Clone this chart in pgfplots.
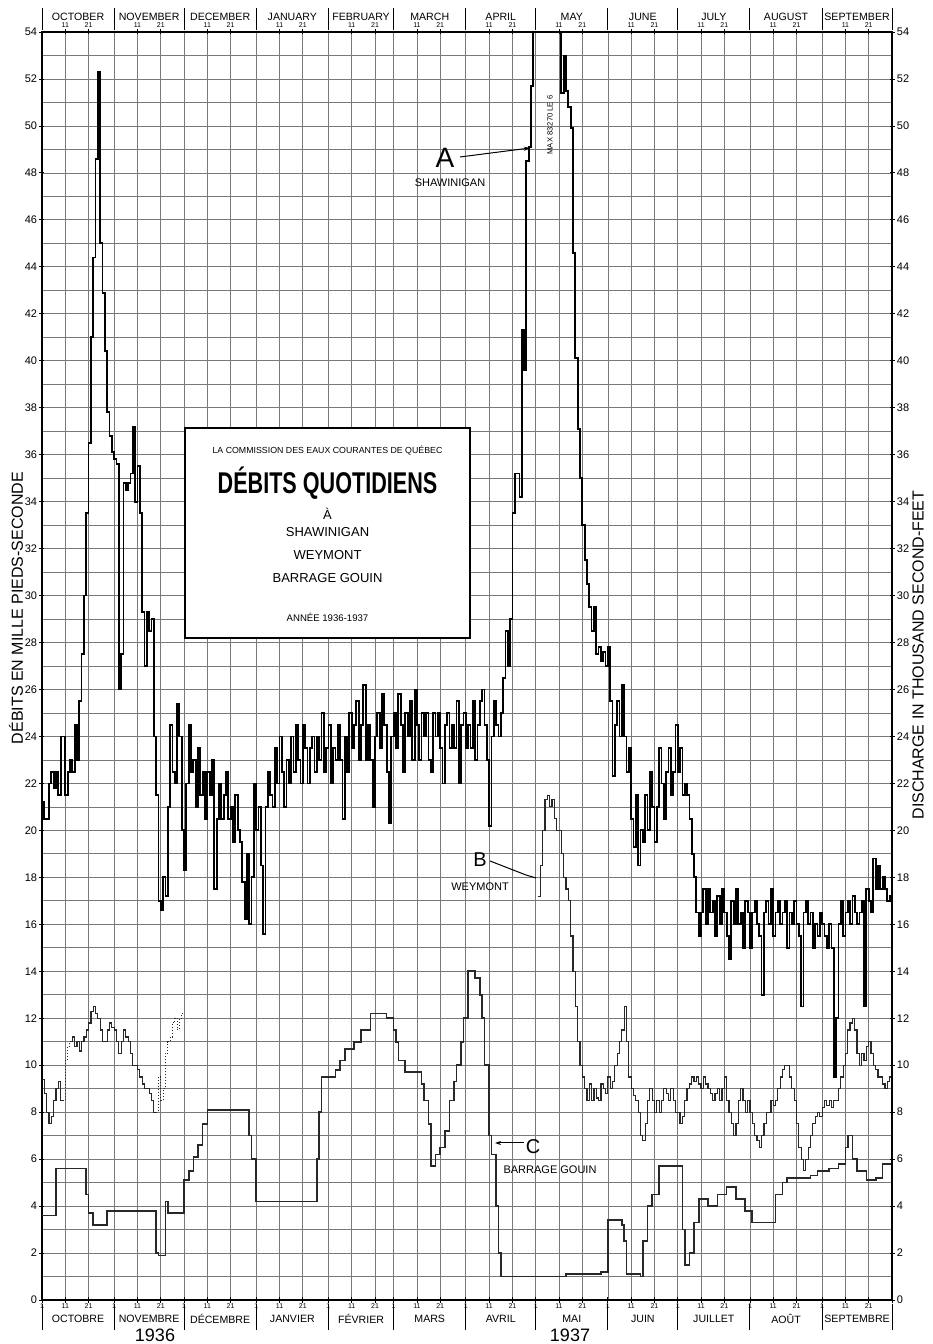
\documentclass[border=0pt]{standalone}
\usepackage{pgfplots}
\pgfplotsset{compat=1.18}
\usepackage{fontspec}
\setmainfont{Liberation Sans}
\usetikzlibrary{arrows.meta}
\definecolor{ink}{RGB}{40,40,40}
\definecolor{gridc}{RGB}{120,120,120}
\begin{document}
\begin{tikzpicture}
\fill[white] (0,0) rectangle (466pt,672pt);
\useasboundingbox (0,0) rectangle (466pt,672pt);
\begin{axis}[
  at={(21pt,22pt)}, anchor=south west, scale only axis, width=425pt, height=634pt,
  xmin=0, xmax=365, ymin=0, ymax=54,
  clip mode=individual,
  /pgf/number format/assume math mode=true,
  axis line style={black, line width=0.6pt},
  xtick={0,10,20,31,41,51,61,71,81,92,102,112,123,133,143,151,161,171,182,192,202,212,222,232,243,253,263,273,283,293,304,314,324,335,345,355,365},
  xticklabels={1,11,21,1,11,21,1,11,21,1,11,21,1,11,21,1,11,21,1,11,21,1,11,21,1,11,21,1,11,21,1,11,21,1,11,21,},
  xtick pos=bottom, ytick pos=left,
  xticklabel style={font=\fontsize{3.5}{3.5}\selectfont, inner sep=0.6pt},
  ytick={0,2,...,54},
  minor ytick={1,3,...,53},
  yticklabel style={font=\fontsize{5.5}{6}\selectfont, inner sep=1pt},
  xmajorgrids, ymajorgrids, yminorgrids,
  major grid style={gridc, line width=0.35pt},
  minor grid style={gridc, line width=0.35pt},
  tick align=center, major tick length=2.5pt, minor tick length=0pt,
  tick style={black, line width=0.4pt},
]
% --- C : Barrage Gouin
\addplot[const plot, ink, line width=0.8pt] coordinates {
(0,3.6)(6,5.6)(19,4.5)(20,3.7)(22,3.2)(28,3.8)(49,2.0)(50,1.9)(53,4.2)(54,3.7)(61,5.1)(63,5.5)(65,6.1)(67,6.6)(69,7.5)(71,8.1)(89,7.0)(90,6.0)(92,4.2)(118,6.0)(119,8.0)(120,9.5)(126,9.8)(128,10.2)(130,10.7)(134,11.0)(137,11.5)(141,12.2)(148,12.0)(151,11.5)(152,11.0)(153,10.2)(156,9.7)(163,9.2)(164,8.5)(166,7.5)(167,5.7)(169,6.2)(171,6.5)(173,7.2)(175,8.5)(177,9.3)(178,10.0)(180,11.0)(181,12.0)(183,14.0)(186,13.7)(188,13.0)(189,12.0)(190,10.0)(192,7.0)(193,6.2)(195,4.0)(196,2.0)(197,1.0)(215,1.0)(225,1.1)(240,1.2)(243,3.4)(249,3.2)(250,2.5)(251,1.1)(257,1.0)(258,2.5)(260,4.0)(262,4.5)(265,5.7)(275,3.0)(276,1.5)(278,2.0)(280,3.3)(282,4.3)(286,4.0)(290,4.5)(294,4.8)(298,4.3)(302,3.8)(305,3.3)(315,4.5)(318,5.0)(320,5.2)(330,5.3)(333,5.5)(338,5.6)(342,5.8)(345,6.5)(346,7.0)(348,6.0)(350,5.5)(354,5.1)(358,5.2)(361,5.8)(365,5.8)};
% --- B : Weymont
\addplot[const plot, ink, line width=0.6pt] coordinates {
(0,9.4)(1,8.8)(2,8.0)(3,7.5)(4,7.8)(5,8.5)(6,9.0)(7,9.3)(8,8.5)(9,8.5)};
\addplot[const plot, ink, line width=0.5pt, densely dotted] coordinates {
(9,8.5)(10,10.2)(11,10.8)(12,11.0)};
\addplot[const plot, ink, line width=0.6pt] coordinates {
(12,11.0)(13,11.2)(14,10.8)(15,11.0)(16,10.6)(17,11.0)(18,11.2)(19,11.5)(20,11.8)(21,12.3)(22,12.5)(23,12.2)(24,12.0)(25,11.5)(26,11.0)(27,11.0)(28,11.5)(29,11.8)(30,11.6)(31,11.5)(32,11.0)(33,10.5)(34,11.0)(35,11.5)(36,11.2)(37,11.0)(38,10.5)(39,10.0)(40,10.0)(41,9.8)(42,9.5)(43,9.2)(44,9.0)(45,9.0)(46,8.8)(47,8.5)(48,8.0)(49,8.0)};
\addplot[const plot, ink, line width=0.5pt, densely dotted] coordinates {
(49,8.0)(50,9.5)(51,8.5)(52,9.0)(53,10.5)(54,11.0)(55,11.2)(56,11.8)(57,12.0)(58,11.5)(59,12.0)(60,12.2)(61,12.2)};
\addplot[const plot, ink, line width=0.6pt] coordinates {
(213,17.2)(214,18.5)(215,20.0)(216,21.3)(217,21.5)(218,21.0)(219,21.3)(220,20.5)(221,20.0)(222,20.0)(223,19.0)(224,18.0)(225,17.5)(226,17.0)(227,15.5)(228,14.0)(229,12.5)
(230,11.0)(231,10.0)(232,9.5)(233,9.0)(234,8.5)(235,9.2)(236,8.5)(237,9.0)(238,8.6)(239,8.5)(240,9.2)(241,9.0)(242,8.8)(243,9.5)(244,9.0)(245,9.3)(246,10.0)(247,10.5)(248,11.0)(249,11.5)(250,12.5)(251,11.0)(252,9.5)(253,9.0)(254,8.7)(255,8.5)(256,8.0)(257,7.0)(258,6.8)(259,7.5)
(260,8.5)(261,9.0)(262,8.5)(263,8.0)(264,8.5)(265,8.0)(266,8.5)(267,9.0)(268,8.8)(269,8.5)(270,9.0)(271,8.5)(272,8.0)(273,8.0)(274,7.5)(275,7.8)(276,8.5)(277,9.0)(278,9.2)(279,9.5)
(280,9.3)(281,9.5)(282,9.2)(283,9.0)(284,9.5)(285,9.2)(286,9.0)(287,8.8)(288,8.5)(289,8.8)(290,9.0)(291,8.5)(292,9.0)(293,9.5)(294,8.5)(295,8.0)(296,7.5)(297,7.0)(298,7.5)(299,8.5)
(300,9.0)(301,8.5)(302,8.0)(303,8.5)(304,8.0)(305,7.5)(306,7.0)(307,6.8)(308,6.5)(309,7.0)(310,7.5)(311,8.0)(312,8.0)(313,8.5)(314,8.3)(315,8.5)(316,9.0)(317,9.5)(318,9.8)(319,10.0)
(320,10.0)(321,9.5)(322,9.0)(323,8.5)(324,7.5)(325,6.5)(326,6.0)(327,5.5)(328,6.0)(329,6.5)(330,7.0)(331,7.5)(332,7.8)(333,8.0)(334,7.8)(335,8.2)(336,8.5)(337,8.3)(338,8.5)(339,8.2)
(340,8.5)(341,8.5)(342,9.0)(343,9.5)(344,10.0)(345,10.5)(346,11.5)(347,11.8)(348,12.0)(349,11.5)(350,10.5)(351,10.0)(352,10.5)(353,10.2)(354,10.8)(355,11.0)(356,10.5)(357,10.0)(358,9.8)(359,9.5)
(360,9.5)(361,9.2)(362,9.0)(363,9.3)(364,9.5)(365,9.5)};
% --- A : Shawinigan
\addplot[const plot, black, line width=0.9pt] coordinates {
(0,21.2)(1,20.5)(2,20.5)(3,22.0)(4,22.5)(5,21.8)(6,22.5)(7,21.5)(8,24.0)(9,24.0)(10,21.5)(11,22.5)(12,23.0)(13,22.5)(14,24.5)(15,23.0)(16,25.5)(17,27.5)(18,30.0)(19,33.5)
(20,36.5)(21,41.0)(22,44.4)(23,48.6)(24,52.3)(25,45.0)(26,42.9)(27,40.4)(28,37.8)(29,36.8)(30,36.1)(31,35.8)(32,35.6)(33,26.0)(34,27.5)(35,34.8)(36,34.5)(37,34.8)(38,35.2)(39,37.2)
(40,34.0)(41,35.5)(42,33.5)(43,29.3)(44,27.0)(45,29.3)(46,28.5)(47,29.0)(48,24.0)(49,21.5)(50,17.0)(51,16.6)(52,18.0)(53,17.2)(54,21.0)(55,24.5)(56,22.5)(57,22.0)(58,25.4)(59,24.0)
(60,20.0)(61,18.3)(62,22.0)(63,24.5)(64,22.5)(65,23.0)(66,21.0)(67,23.5)(68,21.5)(69,22.5)(70,20.5)(71,22.5)(72,21.5)(73,23.0)(74,17.5)(75,20.5)(76,22.0)(77,20.5)(78,21.5)(79,22.5)
(80,20.5)(81,21.0)(82,19.5)(83,21.5)(84,20.0)(85,19.5)(86,17.8)(87,16.2)(88,19.0)(89,16.0)(90,18.0)(91,22.0)(92,20.0)(93,21.0)(94,18.5)(95,15.6)(96,21.0)(97,22.5)(98,21.5)(99,21.0)
(100,23.5)(101,22.0)(102,24.0)(103,22.5)(104,21.0)(105,23.0)(106,22.0)(107,24.0)(108,22.5)(109,24.5)(110,23.0)(111,22.0)(112,24.5)(113,23.5)(114,22.0)(115,23.5)(116,24.0)(117,22.5)(118,24.0)(119,23.0)
(120,25.0)(121,22.5)(122,23.5)(123,24.5)(124,22.0)(125,23.5)(126,23.0)(127,24.5)(128,23.0)(129,20.5)(130,24.0)(131,22.5)(132,25.0)(133,23.5)(134,24.5)(135,25.5)(136,23.0)(137,24.5)(138,26.2)(139,23.0)
(140,24.5)(141,23.0)(142,21.0)(143,24.0)(144,25.0)(145,23.5)(146,25.8)(147,24.5)(148,22.5)(149,20.3)(150,24.0)(151,25.0)(152,23.5)(153,25.8)(154,24.5)(155,22.5)(156,25.0)(157,24.0)(158,25.5)(159,23.0)
(160,26.0)(161,24.5)(162,23.0)(163,25.0)(164,24.0)(165,25.0)(166,23.0)(167,22.5)(168,25.0)(169,24.0)(170,25.0)(171,23.5)(172,22.0)(173,24.5)(174,25.0)(175,23.5)(176,24.5)(177,23.5)(178,25.5)(179,22.0)
(180,24.5)(181,25.0)(182,23.5)(183,24.5)(184,23.5)(185,25.5)(186,23.0)(187,24.5)(188,25.5)(189,26.0)(190,24.5)(191,23.0)(192,20.2)(193,24.0)(194,25.5)(195,24.5)(196,24.0)(197,25.0)(198,26.5)(199,28.5)
(200,27.0)(201,29.0)(202,33.5)(203,35.2)(204,35.2)(205,34.2)(206,41.3)(207,39.6)(208,48.5)(209,49.1)(210,51.7)(211,58.0)(212,64.0)(213,70.0)(214,75.0)(215,79.0)(216,82.0)(217,83.27)(218,80.0)(219,74.0)
(220,67.0)(221,60.0)(222,55.5)(223,51.4)(224,53.0)(225,51.5)(226,50.8)(227,49.9)(228,44.6)(229,40.1)(230,37.1)(231,35.0)(232,33.0)(233,31.5)(234,30.5)(235,29.5)(236,28.5)(237,29.5)(238,27.5)(239,27.8)
(240,27.2)(241,27.6)(242,27.0)(243,27.8)(244,25.5)(245,22.3)(246,24.5)(247,25.5)(248,24.0)(249,26.2)(250,24.0)(251,22.5)(252,23.5)(253,20.5)(254,19.3)(255,21.5)(256,18.5)(257,20.0)(258,19.5)(259,21.5)
(260,20.0)(261,22.5)(262,21.0)(263,19.5)(264,21.0)(265,23.5)(266,22.0)(267,20.5)(268,22.5)(269,23.5)(270,21.5)(271,22.5)(272,24.5)(273,22.5)(274,23.5)(275,21.5)(276,22.0)(277,21.5)(278,20.5)(279,19.0)
(280,18.0)(281,16.5)(282,15.5)(283,16.5)(284,17.5)(285,16.0)(286,17.5)(287,16.5)(288,17.0)(289,15.5)(290,17.2)(291,16.0)(292,17.5)(293,16.5)(294,15.5)(295,14.5)(296,17.0)(297,16.0)(298,17.5)(299,16.0)
(300,16.5)(301,15.0)(302,17.0)(303,16.5)(304,15.0)(305,16.5)(306,17.0)(307,16.0)(308,15.5)(309,13.0)(310,16.5)(311,17.0)(312,16.0)(313,17.5)(314,15.5)(315,16.5)(316,17.0)(317,16.0)(318,16.5)(319,17.0)
(320,15.0)(321,16.5)(322,16.0)(323,17.0)(324,16.0)(325,15.5)(326,12.5)(327,16.5)(328,17.0)(329,16.0)(330,16.5)(331,15.0)(332,16.0)(333,15.5)(334,16.5)(335,16.0)(336,15.5)(337,15.0)(338,16.0)(339,15.0)
(340,9.5)(341,12.0)(342,16.0)(343,17.0)(344,15.5)(345,16.5)(346,17.0)(347,16.0)(348,17.2)(349,16.5)(350,16.0)(351,16.5)(352,17.0)(353,12.5)(354,17.5)(355,17.0)(356,16.5)(357,18.8)(358,17.5)(359,18.5)
(360,17.5)(361,18.0)(362,17.5)(363,17.0)(364,17.2)(365,17.2)};
\end{axis}
\begin{axis}[
  at={(21pt,22pt)}, anchor=south west, scale only axis, width=425pt, height=634pt,
  xmin=0, xmax=365, ymin=0, ymax=54,
  /pgf/number format/assume math mode=true,
  axis x line*=top, axis y line*=right,
  axis line style={black, line width=0.6pt},
  xtick={10,20,41,51,71,81,102,112,133,143,161,171,192,202,222,232,253,263,283,293,314,324,345,355},
  xticklabels={11,21,11,21,11,21,11,21,11,21,11,21,11,21,11,21,11,21,11,21,11,21,11,21},
  xticklabel style={font=\fontsize{3.5}{3.5}\selectfont, inner sep=0.6pt},
  ytick={0,2,...,54},
  yticklabel style={font=\fontsize{5.5}{6}\selectfont, inner sep=1pt},
  tick align=center, major tick length=2.5pt,
  tick style={black, line width=0.4pt},
]
\end{axis}
% month separators and labels
\foreach \d in {0,31,61,92,123,151,182,212,243,273,304,335,365}{
  \draw[black, line width=0.5pt] ({21pt+\d*1.16438pt},668pt) -- ({21pt+\d*1.16438pt},657pt);
  \draw[black, line width=0.5pt] ({21pt+\d*1.16438pt},20pt) -- ({21pt+\d*1.16438pt},7pt);
}
\foreach \c/\t in {15.5/OCTOBER,46/NOVEMBER,76.5/DECEMBER,107.5/JANUARY,137/FEBRUARY,166.5/MARCH,197/APRIL,227.5/MAY,258/JUNE,288.5/JULY,319.5/AUGUST,350/SEPTEMBER}{
  \node[font=\fontsize{5.3}{5.5}\selectfont, inner sep=0pt] at ({21pt+\c*1.16438pt},663.5pt) {\t};
}
\foreach \c/\t in {15.5/OCTOBRE,46/NOVEMBRE,76.5/DÉCEMBRE,107.5/JANVIER,137/FÉVRIER,166.5/MARS,197/AVRIL,227.5/MAI,258/JUIN,288.5/JUILLET,319.5/AOÛT,350/SEPTEMBRE}{
  \node[font=\fontsize{5.3}{5.5}\selectfont, inner sep=0pt] at ({21pt+\c*1.16438pt},12.5pt) {\t};
}
\node[font=\fontsize{9}{9}\selectfont, inner sep=0pt] at (77.5pt,4.5pt) {1936};
\node[font=\fontsize{9}{9}\selectfont, inner sep=0pt] at (285pt,4.5pt) {1937};
% axis titles
\node[rotate=90, font=\fontsize{8}{8}\selectfont, inner sep=0pt] at (8pt,368pt) {DÉBITS EN MILLE PIEDS-SECONDE};
\node[rotate=90, font=\fontsize{8}{8}\selectfont, inner sep=0pt] at (459pt,344.5pt) {DISCHARGE IN THOUSAND SECOND-FEET};
% title box
\draw[black, line width=1.2pt, fill=white] (92.5pt,353pt) rectangle (235pt,458pt);
\node[font=\fontsize{4.4}{5}\selectfont, inner sep=0pt] at (163.75pt,446.5pt) {LA COMMISSION DES EAUX COURANTES DE QUÉBEC};
\node[font=\bfseries\fontsize{15}{15}\selectfont, inner sep=0pt] at (163.75pt,430.5pt) {\scalebox{0.72}[1]{DÉBITS QUOTIDIENS}};
\node[font=\fontsize{6.5}{7}\selectfont, inner sep=0pt] at (163.75pt,415pt) {À};
\node[font=\fontsize{6.5}{7}\selectfont, inner sep=0pt] at (163.75pt,406pt) {SHAWINIGAN};
\node[font=\fontsize{6.5}{7}\selectfont, inner sep=0pt] at (163.75pt,394.5pt) {WEYMONT};
\node[font=\fontsize{6.5}{7}\selectfont, inner sep=0pt] at (163.75pt,383pt) {BARRAGE GOUIN};
\node[font=\fontsize{4.8}{5}\selectfont, inner sep=0pt] at (163.75pt,363.5pt) {ANNÉE 1936-1937};
% annotations
\node[font=\fontsize{14}{14}\selectfont, inner sep=0pt] at (222.5pt,593pt) {A};
\node[font=\fontsize{5.5}{6}\selectfont, inner sep=0pt] at (225pt,580.5pt) {SHAWINIGAN};
\draw[black, line width=0.5pt, -{Stealth[length=3pt,width=2pt]}] (230pt,593.5pt) -- (265pt,598pt);
\node[rotate=90, font=\fontsize{3.8}{4}\selectfont, inner sep=0pt] at (275pt,609.5pt) {MAX 83\,270 LE 6};
\node[font=\fontsize{10}{10}\selectfont, inner sep=0pt] at (240pt,242pt) {B};
\node[font=\fontsize{5.5}{6}\selectfont, inner sep=0pt] at (240pt,228.5pt) {WEYMONT};
\draw[black, line width=0.5pt] (245pt,241.5pt) -- (263pt,234.5pt) -- (268pt,233pt);
\node[font=\fontsize{10}{10}\selectfont, inner sep=0pt] at (266.5pt,98.5pt) {C};
\node[font=\fontsize{5.5}{6}\selectfont, inner sep=0pt] at (275pt,87pt) {BARRAGE GOUIN};
\draw[black, line width=0.5pt, -{Stealth[length=3pt,width=2pt]}] (262pt,100.5pt) -- (247.5pt,100.5pt);
\end{tikzpicture}
\end{document}
